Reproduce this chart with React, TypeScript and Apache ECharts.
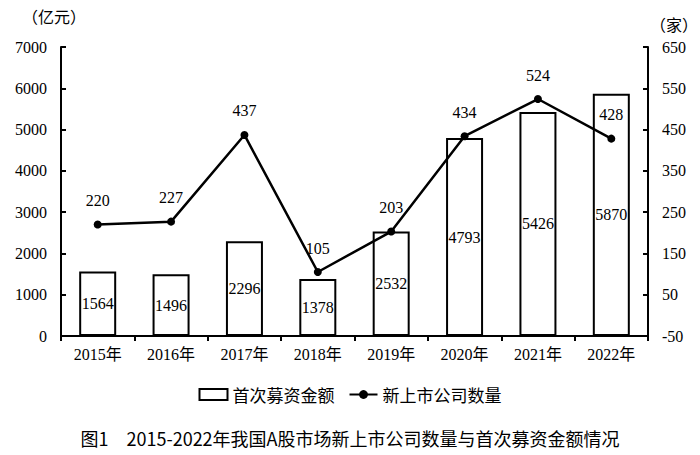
import { useEffect, useRef } from 'react';
import * as echarts from 'echarts';

const years = ['2015年', '2016年', '2017年', '2018年', '2019年', '2020年', '2021年', '2022年'];
const ipoAmount = [1564, 1496, 2296, 1378, 2532, 4793, 5426, 5870];
const newListings = [220, 227, 437, 105, 203, 434, 524, 428];
const serif = '"Liberation Serif", "Noto Sans CJK SC", serif';
const cjk = '"Noto Sans CJK SC", sans-serif';

export default function App() {
  const chartRef = useRef<HTMLDivElement>(null);

  useEffect(() => {
    if (!chartRef.current) return;
    document.body.style.margin = '0';
    const chart = echarts.init(chartRef.current, null, { renderer: 'svg' });

    chart.setOption({
      animation: false,
      backgroundColor: '#fff',
      grid: { left: 61, right: 52, top: 47, bottom: 119 },
      title: {
        text: '图1　2015-2022年我国A股市场新上市公司数量与首次募资金额情况',
        left: 'center',
        top: 424,
        textStyle: { fontFamily: cjk, fontSize: 18, fontWeight: 'normal', color: '#000' },
      },
      legend: {
        top: 381,
        left: 'center',
        itemWidth: 28,
        itemHeight: 11,
        itemGap: 14,
        textStyle: { fontFamily: cjk, fontSize: 17, color: '#000' },
        data: [
          { name: '首次募资金额', icon: 'rect', itemStyle: { color: '#fff', borderColor: '#000', borderWidth: 2 } },
          { name: '新上市公司数量' },
        ],
      },
      graphic: [
        { type: 'text', left: 22, top: 8, style: { text: '（亿元）', fontFamily: cjk, fontSize: 16, fill: '#000' } },
        { type: 'text', left: 650, top: 16, style: { text: '（家）', fontFamily: cjk, fontSize: 16, fill: '#000' } },
      ],
      xAxis: {
        type: 'category',
        data: years,
        axisLine: { lineStyle: { color: '#000', width: 2 } },
        axisTick: { show: true, inside: false, length: 5, lineStyle: { color: '#000', width: 2 } },
        axisLabel: { color: '#000', fontFamily: serif, fontSize: 16, margin: 10 },
      },
      yAxis: [
        {
          type: 'value',
          min: 0,
          max: 7000,
          interval: 1000,
          splitLine: { show: false },
          axisLine: { show: true, lineStyle: { color: '#000', width: 2 } },
          axisTick: { show: true, inside: true, length: 5, lineStyle: { color: '#000', width: 2 } },
          axisLabel: { color: '#000', fontFamily: serif, fontSize: 16, margin: 14, formatter: (v: number) => String(v) },
        },
        {
          type: 'value',
          min: -50,
          max: 650,
          interval: 100,
          splitLine: { show: false },
          axisLine: { show: true, lineStyle: { color: '#000', width: 2 } },
          axisTick: { show: true, inside: true, length: 5, lineStyle: { color: '#000', width: 2 } },
          axisLabel: { color: '#000', fontFamily: serif, fontSize: 16, margin: 14, formatter: (v: number) => String(v) },
        },
      ],
      series: [
        {
          name: '首次募资金额',
          type: 'bar',
          data: ipoAmount,
          barWidth: 37,
          itemStyle: { color: '#fff', borderColor: '#000', borderWidth: 2 },
          label: { show: true, position: 'inside', color: '#000', fontFamily: serif, fontSize: 16 },
        },
        {
          name: '新上市公司数量',
          type: 'line',
          yAxisIndex: 1,
          data: newListings,
          symbol: 'circle',
          symbolSize: 8,
          lineStyle: { color: '#000', width: 2.5 },
          itemStyle: { color: '#000' },
          label: { show: true, position: 'top', distance: 12, color: '#000', fontFamily: serif, fontSize: 16 },
        },
      ],
    });

    return () => chart.dispose();
  }, []);

  return <div ref={chartRef} style={{ width: 700, height: 455 }} />;
}
